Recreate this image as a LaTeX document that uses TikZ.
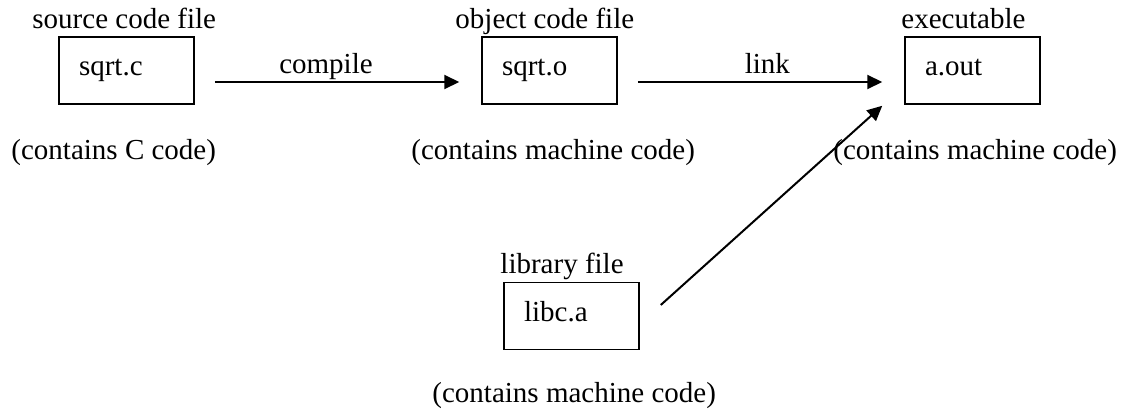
\documentclass[tikz,border=0pt]{standalone}
\usepackage{fontspec}
\setmainfont{Liberation Serif}
\usetikzlibrary{
  calc, % For offsets from the boxes
  arrows.meta % For arrow tips
}

\begin{document}
\begin{tikzpicture}[
      x=1pt, y=-1pt, % Pixel units, y pointing down
      >={Triangle[length=15pt, width=14pt]}, % Default arrow tip
      every node/.style={font=\fontsize{29}{34}\selectfont},
      filebox/.style={draw, line width=1.5pt, minimum height=67pt,
        text width=95pt, inner xsep=20pt, inner ysep=0pt, align=left,
        text height=16pt, text depth=6pt}, % Style for the file boxes
      flow/.style={->, line width=2pt}, % Style for the arrows
      note/.style={anchor=base west, inner sep=0pt}, % Style for the texts
    ]
    \useasboundingbox (0,0) rectangle (1129,415);

    % Dateien
    \node[filebox] (src) at (126.5,70.5) {sqrt.c};
    \node[filebox] (obj) at (549.5,70.5) {sqrt.o};
    \node[filebox] (exe) at (972.5,70.5) {a.out};
    \node[filebox] (lib) at (571.5,316) {libc.a};

    % Texte darueber
    \node[note] (srctitle) at ($(src.north west)+(-26,-8)$) {source code file};
    \node[note] (objtitle) at ($(obj.north west)+(-26,-8)$) {object code file};
    \node[note] (exetitle) at ($(exe.north west)+(-3,-8)$) {executable};
    \node[note] (libtitle) at ($(lib.north west)+(-3,-8)$) {library file};

    % Texte darunter
    \node[note] (srcnote) at ($(src.south west)+(-47,55)$) {(contains C code)};
    \node[note] (objnote) at ($(obj.south west)+(-70,55)$) {(contains machine code)};
    \node[note] (exenote) at ($(exe.south west)+(-71,55)$) {(contains machine code)};
    \node[note] (libnote) at ($(lib.south west)+(-71,52)$) {(contains machine code)};

    % Pfeile
    \draw[flow] ($(src.east)+(20,11.5)$) -- node[anchor=base, pos=.455, yshift=9pt] (compile) {compile} ($(obj.west)+(-22,11.5)$);
    \draw[flow] ($(obj.east)+(20,11.5)$) -- node[anchor=base, pos=.53, yshift=9pt] (link) {link} ($(exe.west)+(-22,11.5)$);
    \draw[flow] ($(lib.east)+(21,-11)$) -- ($(exe.south west)+(-22,1)$);
  \end{tikzpicture}
\end{document}
